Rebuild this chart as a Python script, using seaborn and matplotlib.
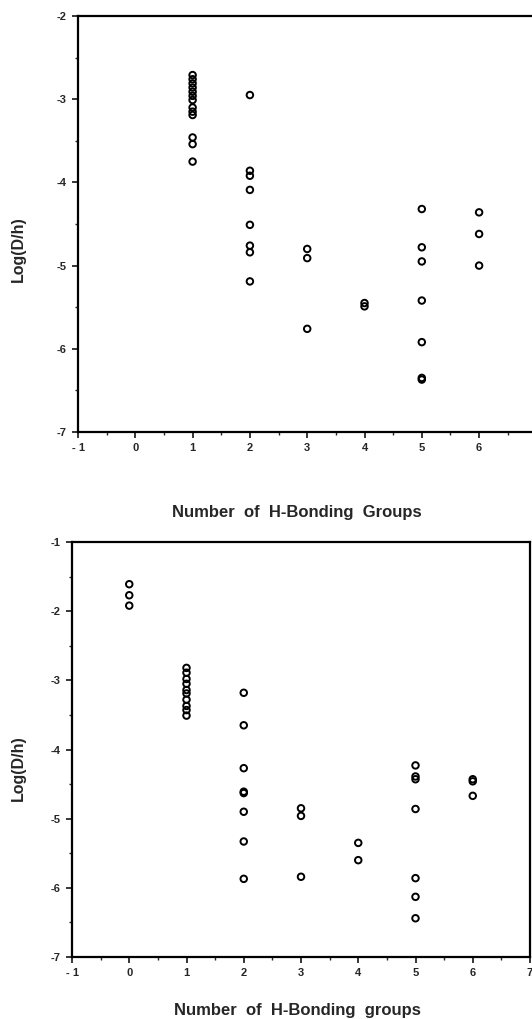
import matplotlib
matplotlib.use("Agg")
import matplotlib.pyplot as plt
import seaborn as sns
import pandas as pd
from matplotlib.ticker import MultipleLocator

sns.set_style("ticks")
plt.rcParams['font.family'] = ['Liberation Sans', 'DejaVu Sans']

# Top panel data
top_x = [1]*13 + [2]*8 + [3]*3 + [4]*2 + [5]*7 + [6]*3
top_y = [-2.71, -2.76, -2.81, -2.86, -2.91, -2.96, -3.01, -3.10, -3.15, -3.19, -3.46, -3.54, -3.75,
         -2.95, -3.86, -3.92, -4.09, -4.51, -4.76, -4.84, -5.19,
         -4.80, -4.91, -5.76,
         -5.45, -5.49,
         -4.32, -4.78, -4.95, -5.42, -5.92, -6.35, -6.37,
         -4.36, -4.62, -5.00]

# Bottom panel data
bot_x = [0]*3 + [1]*10 + [2]*8 + [3]*3 + [4]*2 + [5]*7 + [6]*3
bot_y = [-1.61, -1.77, -1.92,
         -2.82, -2.89, -2.98, -3.05, -3.14, -3.19, -3.28, -3.37, -3.43, -3.51,
         -3.18, -3.65, -4.27, -4.61, -4.63, -4.90, -5.33, -5.87,
         -4.85, -4.96, -5.84,
         -5.35, -5.60,
         -4.23, -4.39, -4.43, -4.86, -5.86, -6.13, -6.44,
         -4.43, -4.46, -4.67]

x_ticks = [-1, 0, 1, 2, 3, 4, 5, 6, 7]
top_xticklabels = ["- 1", "0", "1", "2", "3", "4", "5", "6", ""]
bot_xticklabels = ["- 1", "0", "1", "2", "3", "4", "5", "6", "7"]
top_yticks = [-7, -6, -5, -4, -3, -2]
bot_yticks = [-7, -6, -5, -4, -3, -2, -1]

top_df = pd.DataFrame({"x": top_x, "y": top_y})
bot_df = pd.DataFrame({"x": bot_x, "y": bot_y})

fig = plt.figure(figsize=(5.32, 10.19), dpi=100)
ax1 = fig.add_axes([78/532, 1-432/1019, 458.4/532, 416/1019])
ax2 = fig.add_axes([72/532, 1-957/1019, 458/532, 415/1019])

def style(ax, df, xticklabels, yticks, ylim, xlabel, xl_coords, yl_coords):
    sns.scatterplot(data=df, x="x", y="y", ax=ax, marker="o", s=22,
                    facecolors="none", edgecolor="black", linewidth=1.4)
    ax.set_xlim(-1, 7)
    ax.set_ylim(*ylim)
    ax.set_xticks(x_ticks)
    ax.set_xticklabels(xticklabels)
    ax.set_yticks(yticks)
    ax.set_yticklabels([str(t) for t in yticks])
    ax.xaxis.set_minor_locator(MultipleLocator(0.5))
    ax.yaxis.set_minor_locator(MultipleLocator(0.5))
    ax.tick_params(which="major", direction="out", length=4, width=1.3,
                   labelsize=8, pad=4, top=False, right=False)
    ax.tick_params(which="minor", direction="out", length=2.5, width=1.0,
                   top=False, right=False)
    for lbl in ax.get_xticklabels() + ax.get_yticklabels():
        lbl.set_fontweight("bold")
    for sp in ax.spines.values():
        sp.set_visible(True)
        sp.set_linewidth(1.6)
        sp.set_color("black")
    ax.set_xlabel(xlabel, fontsize=12, fontweight="bold", va="top")
    ax.set_ylabel("Log(D/h)", fontsize=11.5, fontweight="bold")
    ax.xaxis.set_label_coords(*xl_coords)
    ax.yaxis.set_label_coords(*yl_coords)
    ax.grid(False)

style(ax1, top_df, top_xticklabels, top_yticks, (-7, -2),
      "Number  of  H-Bonding  Groups", (0.477, -0.175), (-0.113, 0.44))
style(ax2, bot_df, bot_xticklabels, bot_yticks, (-7, -1),
      "Number  of  H-Bonding  groups", (0.492, -0.112), (-0.100, 0.455))

fig.savefig("out.png", dpi=100)
